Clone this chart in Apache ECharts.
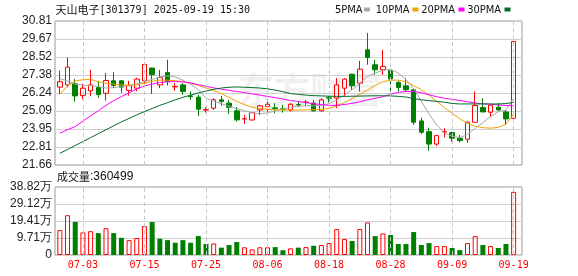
<!DOCTYPE html>
<html><head><meta charset="utf-8">
<script src="https://cdn.jsdelivr.net/npm/echarts@6/dist/echarts.min.js"></script>
<style>html,body{margin:0;padding:0;background:#fff}#c{width:578px;height:276px}</style>
</head><body><div id="c"></div><script>
// ---- data ----
const stockName = '天山电子';
const stockCode = '301379';
const stampText = '2025-09-19 15:30';
const volumeTitle = '成交量';
const lastVolume = 360499;
const maNames = ['5PMA', '10PMA', '20PMA', '30PMA'];
const watermarkText = '东方财富';

const dates = ['06-30','07-01','07-02','07-03','07-04','07-07','07-08','07-09','07-10','07-11',
  '07-14','07-15','07-16','07-17','07-18','07-21','07-22','07-23','07-24','07-25',
  '07-28','07-29','07-30','07-31','08-01','08-04','08-05','08-06','08-07','08-08',
  '08-11','08-12','08-13','08-14','08-15','08-18','08-19','08-20','08-21','08-22',
  '08-25','08-26','08-27','08-28','08-29','09-01','09-02','09-03','09-04','09-05',
  '09-08','09-09','09-10','09-11','09-12','09-15','09-16','09-17','09-18','09-19'];
const xTickLabels = ['07-03','07-15','07-25','08-06','08-18','08-28','09-09','09-19'];

const opens = [26.61,26.75,26.82,26.07,26.37,26.58,26.22,27.01,27.01,26.40,
  26.54,27.01,27.82,26.75,27.54,26.62,26.75,26.05,25.97,25.15,
  25.27,25.80,25.59,25.10,24.58,24.52,25.16,25.37,25.29,25.23,
  25.16,25.50,25.63,25.59,25.10,25.93,25.91,26.54,27.43,26.86,
  28.98,28.03,27.71,27.65,26.90,26.69,26.44,24.46,23.78,22.99,
  23.76,23.72,23.36,23.30,24.38,25.31,25.01,25.33,25.03,24.63];
const closes = [26.95,27.88,26.05,26.54,26.75,26.14,27.03,26.71,26.61,26.70,
  27.12,28.05,27.39,27.22,26.96,26.66,26.33,26.00,25.21,25.18,
  25.80,25.70,25.33,24.53,24.60,24.99,25.42,25.52,25.25,25.20,
  25.52,25.48,25.66,25.10,25.80,25.91,26.75,27.12,26.69,27.75,
  28.49,27.71,27.92,27.12,26.58,26.44,24.38,23.74,22.99,23.53,
  23.78,23.36,23.21,24.38,25.44,25.03,25.46,25.16,24.59,29.51];
const lows = [26.18,26.60,25.69,25.84,26.05,25.94,25.75,26.54,26.25,26.07,
  26.35,26.75,26.18,26.54,26.71,26.37,26.12,25.80,24.78,24.99,
  25.16,25.42,24.91,24.42,24.27,24.50,24.84,25.05,24.95,24.99,
  25.05,25.33,25.42,25.05,25.05,25.63,25.27,26.01,26.43,26.33,
  28.03,27.39,27.39,26.33,26.33,26.33,24.21,23.63,22.57,22.88,
  23.42,23.14,23.10,23.08,24.38,25.03,24.70,25.12,24.27,24.63];
const highs = [27.65,28.49,27.12,26.82,27.71,27.01,27.50,27.56,27.05,27.01,
  27.20,28.17,27.84,27.71,28.35,26.86,26.86,26.33,26.12,25.33,
  25.91,26.05,25.80,25.33,24.84,25.01,25.48,25.69,25.59,25.48,
  25.59,25.69,25.80,25.80,25.91,26.05,27.18,27.18,27.45,28.28,
  30.05,28.35,28.98,27.71,27.01,27.18,26.54,24.67,24.03,23.55,
  23.99,23.78,23.57,24.42,26.33,25.91,25.46,25.59,25.16,29.51];
const volumes = [142000,227000,189000,129000,136000,125000,153000,125000,98000,85000,
  97000,165000,188000,93000,85000,70000,85000,70000,108000,63000,
  66000,42000,57000,74000,44000,32000,44000,44000,45000,27000,
  38000,42000,45000,53000,57000,68000,148000,91000,80000,148000,
  186000,108000,123000,114000,63000,63000,131000,57000,68000,51000,
  51000,40000,28000,68000,108000,57000,51000,40000,63000,360499];

const ma5 = [27.15,27.00,26.80,26.72,26.70,26.65,26.55,26.58,26.63,26.72,
  26.80,26.95,27.10,27.25,27.32,27.25,27.05,26.80,26.45,25.90,
  25.72,25.55,25.40,25.25,25.10,24.98,24.92,24.97,25.10,25.22,
  25.33,25.40,25.42,25.42,25.45,25.55,25.80,26.10,26.45,26.85,
  27.30,27.50,27.68,27.75,27.50,27.10,26.50,25.70,24.90,24.20,
  23.70,23.48,23.40,23.60,24.00,24.35,24.75,25.05,25.15,25.90];
const ma10 = [26.15,26.70,27.00,27.08,27.10,26.95,26.85,26.80,26.75,26.73,
  26.76,26.85,26.98,27.05,27.05,27.02,26.95,26.85,26.72,26.55,
  26.40,26.20,25.95,25.70,25.50,25.33,25.25,25.20,25.17,25.15,
  25.15,25.15,25.16,25.18,25.20,25.25,25.42,25.62,25.88,26.15,
  26.42,26.72,26.95,27.05,27.05,26.95,26.70,26.45,26.10,25.70,
  25.30,24.95,24.60,24.30,24.12,24.03,24.00,24.05,24.25,24.90];
const ma20 = [23.68,23.90,24.10,24.45,24.78,25.10,25.45,25.75,26.00,26.25,
  26.50,26.68,26.80,26.90,26.95,26.96,26.94,26.87,26.77,26.66,
  26.56,26.48,26.40,26.33,26.26,26.18,26.10,26.02,25.94,25.85,
  25.75,25.70,25.62,25.55,25.50,25.45,25.45,25.50,25.58,25.68,
  25.80,25.90,26.00,26.15,26.28,26.33,26.33,26.25,26.12,26.00,
  25.90,25.83,25.76,25.68,25.60,25.55,25.52,25.48,25.44,25.42];
const ma30 = [22.40,22.65,22.90,23.15,23.40,23.65,23.90,24.15,24.40,24.62,
  24.85,25.05,25.25,25.45,25.62,25.80,25.96,26.10,26.24,26.36,
  26.47,26.55,26.60,26.62,26.60,26.58,26.55,26.50,26.42,26.32,
  26.20,26.15,26.10,26.07,26.05,26.03,26.02,26.02,26.03,26.04,
  26.05,26.06,26.06,26.05,26.02,25.98,25.88,25.80,25.75,25.70,
  25.65,25.57,25.54,25.54,25.54,25.54,25.54,25.54,25.56,25.65];

const priceTicks = ['21.66','22.81','23.95','25.09','26.24','27.38','28.52','29.67','30.81'];
const volTicks = ['0','9.71万','19.41万','29.12万','38.82万'];

// ---- styles ----
const RED = '#ff0000', GREEN = '#008000';
const maColors = ['#a8a8a8', '#f2a100', '#ff00ff', '#006d2c'];
const PMIN = parseFloat(priceTicks[0]), PMAX = parseFloat(priceTicks[priceTicks.length - 1]);
const PINT = (PMAX - PMIN) / (priceTicks.length - 1);
const VMAX = 388200, VINT = VMAX / (volTicks.length - 1);

const chart = echarts.init(document.getElementById('c'), null, {renderer: 'canvas', width: 578, height: 276});

const candleData = dates.map((d, i) => [opens[i], closes[i], lows[i], highs[i]]);
const volData = volumes.map((v, i) => {
  const up = i === 0 ? true : closes[i] >= closes[i - 1];
  return {value: v, itemStyle: up ? {color: 'rgba(0,0,0,0)', borderColor: RED, borderWidth: 1} : {color: GREEN}};
});

const axisLabelStyle = {fontSize: 12, color: '#222', fontFamily: 'Liberation Sans, Arial, sans-serif', margin: 3};
const vline = (xi, yi) => ({
  type: 'line', xAxisIndex: xi, yAxisIndex: yi, data: [], z: 1, silent: true,
  markLine: {symbol: ['none', 'none'], silent: true, label: {show: false}, emphasis: {disabled: true},
    lineStyle: {color: '#c8c8c8', type: [4, 3], width: 1},
    data: xTickLabels.map(d => ({xAxis: d}))}
});
const maSeries = [ma5, ma10, ma20, ma30].map((arr, k) => ({
  type: 'line', name: maNames[k], xAxisIndex: 1, yAxisIndex: 1, data: arr, symbol: 'none', z: 4,
  lineStyle: {color: maColors[k], width: 1}, itemStyle: {color: maColors[k]}, silent: true
}));

const legendGraphics = [];
const legTextRight = [362.5, 409.5, 455, 501];
const legSquareX = [364, 412.5, 458.5, 504.5];
maNames.forEach((n, k) => {
  legendGraphics.push({type: 'text', x: legTextRight[k], y: 10,
    style: {text: n, fill: '#111', fontSize: 11, fontFamily: "'Liberation Sans Narrow','DejaVu Sans Condensed','Liberation Sans',sans-serif", textAlign: 'right', textVerticalAlign: 'middle'}});
  legendGraphics.push({type: 'rect', shape: {x: legSquareX[k], y: 7.5, width: 6, height: 4}, style: {fill: maColors[k]}});
});

const option = {
  animation: false,
  backgroundColor: '#fff',
  grid: [
    {left: 55, top: 21, width: 467, height: 144, show: true, borderColor: '#999', borderWidth: 1, backgroundColor: 'transparent'},
    {left: 56, top: 21, width: 461.5, height: 144},
    {left: 55, top: 187, width: 467, height: 68, show: true, borderColor: '#999', borderWidth: 1, backgroundColor: 'transparent'},
    {left: 56, top: 187, width: 461.5, height: 68}
  ],
  xAxis: [
    {type: 'value', gridIndex: 0, min: 0, max: 1, show: false},
    {type: 'category', gridIndex: 1, data: dates, boundaryGap: true, show: false},
    {type: 'value', gridIndex: 2, min: 0, max: 1, show: false},
    {type: 'category', gridIndex: 3, data: dates, boundaryGap: true,
      axisLine: {show: false}, axisTick: {show: false}, splitLine: {show: false},
      axisLabel: {interval: (i, v) => xTickLabels.includes(v), color: RED, fontSize: 10,
        fontFamily: "'DejaVu Sans Mono', monospace", margin: 5}}
  ],
  yAxis: [
    {type: 'value', gridIndex: 0, min: PMIN, max: PMAX, interval: PINT,
      axisLine: {show: false}, axisTick: {show: false},
      splitLine: {show: true, lineStyle: {color: '#d0d0d0', width: 1}},
      axisLabel: Object.assign({formatter: v => priceTicks[Math.round((v - PMIN) / PINT)]}, axisLabelStyle)},
    {type: 'value', gridIndex: 1, min: PMIN, max: PMAX, show: false, splitLine: {show: false}},
    {type: 'value', gridIndex: 2, min: 0, max: VMAX, interval: VINT,
      axisLine: {show: false}, axisTick: {show: false},
      splitLine: {show: true, lineStyle: {color: '#d0d0d0', width: 1}},
      axisLabel: Object.assign({formatter: v => volTicks[Math.round(v / VINT)]}, axisLabelStyle)},
    {type: 'value', gridIndex: 3, min: 0, max: VMAX, show: false, splitLine: {show: false}}
  ],
  series: [
    vline(1, 1),
    vline(3, 3),
    {type: 'candlestick', xAxisIndex: 1, yAxisIndex: 1, data: candleData, barWidth: 5, z: 3, silent: true,
      itemStyle: {color: 'rgba(0,0,0,0)', color0: GREEN, borderColor: RED, borderColor0: GREEN, borderWidth: 1}},
    ...maSeries,
    {type: 'bar', xAxisIndex: 3, yAxisIndex: 3, data: volData, barWidth: 5, z: 3, silent: true}
  ],
  graphic: [
    {type: 'text', x: 310, y: 90, z: 0, silent: true,
      style: {text: watermarkText, fill: 'rgba(0,0,0,0.06)', fontSize: 36, fontWeight: 'bold',
        fontFamily: "'Noto Sans CJK SC', sans-serif", textAlign: 'center', textVerticalAlign: 'middle'}},
    {type: 'text', x: 55.5, y: 10,
      style: {text: '{a|' + stockName + '}{b|[' + stockCode + '] ' + stampText + '}', textVerticalAlign: 'middle',
        rich: {a: {fontSize: 11, fontFamily: "'Noto Sans CJK SC', sans-serif", fill: '#111'},
               b: {fontSize: 10, fontFamily: "'DejaVu Sans Mono', monospace", fill: '#111'}}}},
    {type: 'text', x: 57, y: 176.5,
      style: {text: '{a|' + volumeTitle + '}{b|:' + lastVolume + '}', textVerticalAlign: 'middle',
        rich: {a: {fontSize: 11, fontFamily: "'Noto Sans CJK SC', sans-serif", fill: '#111'},
               b: {fontSize: 12, fontFamily: "'Liberation Sans', Arial, sans-serif", fill: '#111'}}}},
    ...legendGraphics
  ]
};
chart.setOption(option);
</script></body></html>
